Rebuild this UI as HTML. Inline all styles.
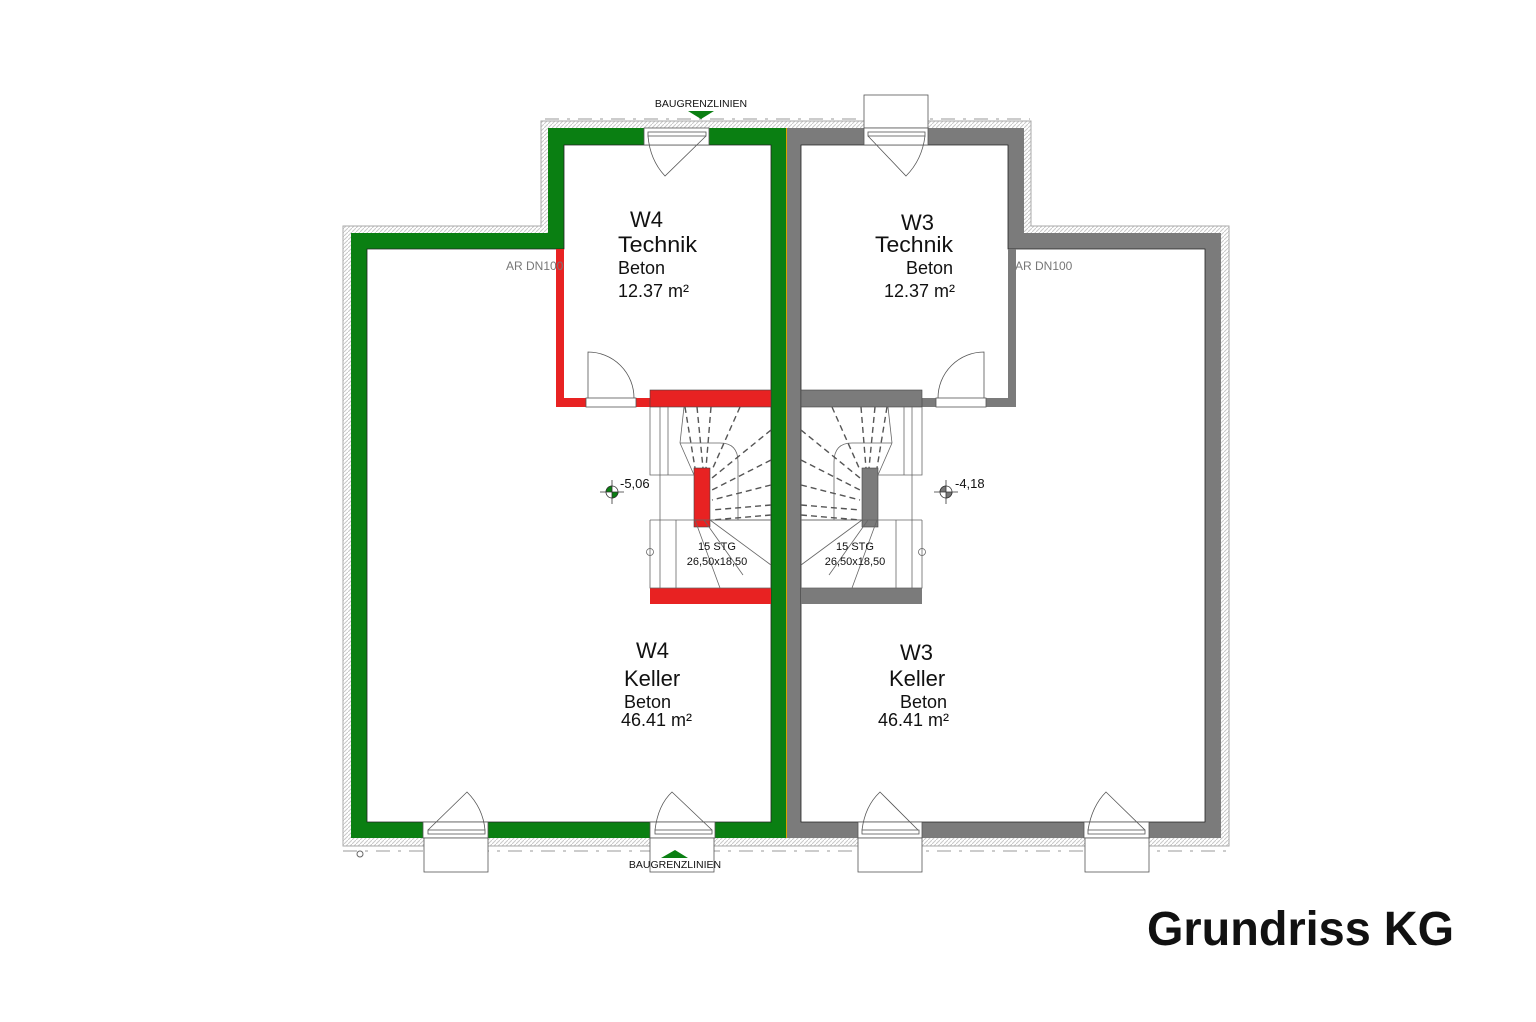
<!DOCTYPE html>
<html><head><meta charset="utf-8"><style>
html,body{margin:0;padding:0;background:#fff;}
svg{display:block;}
text{font-family:"Liberation Sans",sans-serif;fill:#111;}
</style></head><body>
<svg width="1536" height="1022" viewBox="0 0 1536 1022" xmlns="http://www.w3.org/2000/svg">
<defs>
<pattern id="h" width="4" height="4" patternUnits="userSpaceOnUse"><rect width="4" height="4" fill="#fff"/><path d="M0 4L4 0" stroke="#c8c8c8" stroke-width="1"/></pattern>
</defs>
<path d="M343 226 H541 V121 H1031 V226 H1229 V846 H343 Z" fill="url(#h)" stroke="#aaa" stroke-width="1"/>
<line x1="545" y1="119" x2="1030" y2="119" stroke="#999" stroke-dasharray="14 8 3 8"/>
<line x1="343" y1="851" x2="1232" y2="851" stroke="#999" stroke-dasharray="14 8 3 8"/>
<path d="M351 233 H548 V128 H786 V838 H351 Z" fill="#0a7f12"/>
<path d="M786 128 H1024 V233 H1221 V838 H786 Z" fill="#7b7b7b"/>
<path d="M367 249 H564 V145 H771 V822 H367 Z" fill="#fff" stroke="#222" stroke-width="0.8"/>
<path d="M801 145 H1008 V249 H1205 V822 H801 Z" fill="#fff" stroke="#222" stroke-width="0.8"/>
<line x1="786.5" y1="128" x2="786.5" y2="838" stroke="#d9a400" stroke-width="1"/>
<rect x="556" y="249" width="8" height="158" fill="#e82222"/>
<rect x="556" y="398" width="30" height="9" fill="#e82222"/>
<rect x="636" y="398" width="14" height="9" fill="#e82222"/>
<rect x="650" y="390" width="121" height="17" fill="#e82222" stroke="#444" stroke-width="0.6"/>
<rect x="650" y="588" width="121" height="16" fill="#e82222"/>
<rect x="694" y="468" width="16" height="59" fill="#e82222" stroke="#444" stroke-width="0.6"/>
<rect x="1008" y="249" width="8" height="158" fill="#7b7b7b"/>
<rect x="986" y="398" width="30" height="9" fill="#7b7b7b"/>
<rect x="922" y="398" width="14" height="9" fill="#7b7b7b"/>
<rect x="801" y="390" width="121" height="17" fill="#7b7b7b" stroke="#444" stroke-width="0.6"/>
<rect x="801" y="588" width="121" height="16" fill="#7b7b7b"/>
<rect x="862" y="468" width="16" height="59" fill="#7b7b7b" stroke="#444" stroke-width="0.6"/>
<g fill="none" stroke="#555" stroke-width="0.8">
<rect x="586" y="398" width="50" height="9" fill="#fff"/>
<path d="M588 398 V352 A46 46 0 0 1 634 398"/>
<rect x="936" y="398" width="50" height="9" fill="#fff"/>
<path d="M984 398 V352 A46 46 0 0 0 938 398"/>
</g>
<g fill="#fff" stroke="#555" stroke-width="0.8">
<rect x="644" y="128" width="65" height="17"/>
<rect x="648" y="132" width="58" height="4"/>
<path d="M648 136 Q650 160 665 176 L706 136" fill="none"/>
<rect x="864" y="95" width="64" height="33"/>
<rect x="864" y="128" width="64" height="17"/>
<rect x="868" y="132" width="57" height="4"/>
<path d="M868 136 L906 176 Q922 160 925 136" fill="none"/>
</g>
<g fill="#fff" stroke="#555" stroke-width="0.8">
<rect x="423" y="822" width="65" height="16"/>
<rect x="428" y="830" width="57" height="4"/>
<path d="M428 830 L467 792 Q483 808 485 830" fill="none"/>
<rect x="424" y="838" width="64" height="34"/>
<rect x="650" y="822" width="65" height="16"/>
<rect x="655" y="830" width="57" height="4"/>
<path d="M655 830 Q658 805 672 792 L712 830" fill="none"/>
<rect x="650" y="838" width="64" height="34"/>
<rect x="858" y="822" width="64" height="16"/>
<rect x="862" y="830" width="57" height="4"/>
<path d="M862 830 Q865 806 880 792 L918 830" fill="none"/>
<rect x="858" y="838" width="64" height="34"/>
<rect x="1084" y="822" width="65" height="16"/>
<rect x="1088" y="830" width="57" height="4"/>
<path d="M1088 830 Q1092 806 1106 792 L1145 830" fill="none"/>
<rect x="1085" y="838" width="64" height="34"/>
</g>
<g fill="none" stroke="#666" stroke-width="0.8">
<path d="M650 407 V475 H694 M650 520 V588 H771 M650 520 H771"/>
<path d="M660 407 V588 M668 407 V475 M676 520 V588"/>
<path d="M680 443 H720 Q738 443 738 462 V520"/>
<path d="M680 443 L694 475 M684 407 L680 443 M695 520 L720 588 M704 520 L743 575 M710 520 L771 565 M710 520 L771 520"/>
<circle cx="650" cy="552" r="3.5"/>
</g>
<g fill="none" stroke="#555" stroke-width="1.4" stroke-dasharray="6 4">
<path d="M685 407 L695 468 M697 407 L703 468 M711 407 L706 468 M740 407 L712 470 M771 430 L712 478 M771 460 L712 490 M771 485 L712 500 M771 505 L712 510 M771 515 L712 520"/>
</g>
<g fill="none" stroke="#666" stroke-width="0.8">
<path d="M922 407 V475 H878 M922 520 V588 H801 M922 520 H801"/>
<path d="M912 407 V588 M904 407 V475 M896 520 V588"/>
<path d="M892 443 H852 Q834 443 834 462 V520"/>
<path d="M892 443 L878 475 M888 407 L892 443 M877 520 L852 588 M868 520 L829 575 M862 520 L801 565 M862 520 L801 520"/>
<circle cx="922" cy="552" r="3.5"/>
</g>
<g fill="none" stroke="#555" stroke-width="1.4" stroke-dasharray="6 4">
<path d="M887 407 L877 468 M875 407 L869 468 M861 407 L866 468 M832 407 L860 470 M801 430 L860 478 M801 460 L860 490 M801 485 L860 500 M801 505 L860 510 M801 515 L860 520"/>
</g>
<g stroke="#333" stroke-width="0.8" fill="#fff">
<line x1="600" y1="492" x2="624" y2="492"/><line x1="612" y1="480" x2="612" y2="504"/>
<circle cx="612" cy="492" r="6"/>
<path d="M612 492 V486 A6 6 0 0 0 606 492 Z M612 492 V498 A6 6 0 0 0 618 492 Z" fill="#0a7f12"/>
<line x1="934" y1="492" x2="958" y2="492"/><line x1="946" y1="480" x2="946" y2="504"/>
<circle cx="946" cy="492" r="6"/>
<path d="M946 492 V486 A6 6 0 0 0 940 492 Z M946 492 V498 A6 6 0 0 0 952 492 Z" fill="#777"/>
</g>
<text x="620" y="488" font-size="13">-5,06</text>
<text x="955" y="488" font-size="13">-4,18</text>
<text x="717" y="550" font-size="11" text-anchor="middle">15 STG</text>
<text x="717" y="565" font-size="11" text-anchor="middle">26,50x18,50</text>
<text x="855" y="550" font-size="11" text-anchor="middle">15 STG</text>
<text x="855" y="565" font-size="11" text-anchor="middle">26,50x18,50</text>
<text x="701" y="107" font-size="10.5" text-anchor="middle">BAUGRENZLINIEN</text>
<path d="M688 111 H714 L701 119 Z" fill="#0a7f12"/>
<text x="675" y="868" font-size="10.5" text-anchor="middle">BAUGRENZLINIEN</text>
<path d="M661 858 H688 L675 850 Z" fill="#0a7f12"/>
<circle cx="360" cy="854" r="3" fill="#fff" stroke="#666"/>
<text x="506" y="270" font-size="12" style="fill:#777">AR DN100</text>
<text x="1015" y="270" font-size="12" style="fill:#777">AR DN100</text>
<text x="630" y="227" font-size="22">W4</text>
<text x="618" y="252" font-size="22" textLength="79" lengthAdjust="spacingAndGlyphs">Technik</text>
<text x="618" y="274" font-size="18">Beton</text>
<text x="618" y="297" font-size="18">12.37 m²</text>
<text x="901" y="230" font-size="22">W3</text>
<text x="875" y="252" font-size="22" textLength="78" lengthAdjust="spacingAndGlyphs">Technik</text>
<text x="906" y="274" font-size="18">Beton</text>
<text x="884" y="297" font-size="18">12.37 m²</text>
<text x="636" y="658" font-size="22">W4</text>
<text x="624" y="686" font-size="22">Keller</text>
<text x="624" y="708" font-size="18">Beton</text>
<text x="621" y="726" font-size="18">46.41 m²</text>
<text x="900" y="660" font-size="22">W3</text>
<text x="889" y="686" font-size="22">Keller</text>
<text x="900" y="708" font-size="18">Beton</text>
<text x="878" y="726" font-size="18">46.41 m²</text>
<text x="1147" y="945" font-size="48" font-weight="bold" textLength="307" lengthAdjust="spacingAndGlyphs">Grundriss KG</text>
</svg>
</body></html>
